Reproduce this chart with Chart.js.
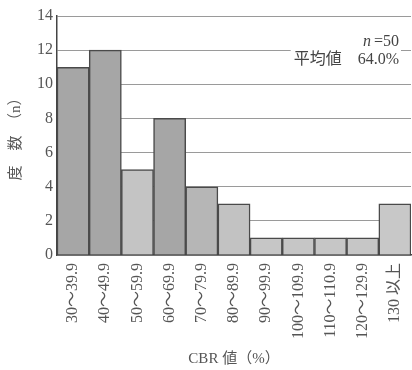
<!DOCTYPE html>
<html>
<head>
<meta charset="utf-8">
<script src="https://cdn.jsdelivr.net/npm/chart.js@4.4.1/dist/chart.umd.min.js"></script>
<style>
  body { margin: 0; background: #fff; }
</style>
</head>
<body>
<canvas id="cbrHistograma" width="412" height="370"></canvas>
<script>
// datos
const categorias = [
  "30〜39.9", "40〜49.9", "50〜59.9", "60〜69.9", "70〜79.9", "80〜89.9",
  "90〜99.9", "100〜109.9", "110〜110.9", "120〜129.9", "130 以上",
];
const frecuencias = [11, 12, 5, 8, 4, 3, 1, 1, 1, 1, 3];
const coloresBarras = [
  "#a6a6a6", "#a6a6a6", "#c4c4c4", "#a6a6a6", "#b6b6b6", "#c2c2c2",
  "#c6c6c6", "#c6c6c6", "#c6c6c6", "#c6c6c6", "#c8c8c8",
];
const ticksY = [0, 2, 4, 6, 8, 10, 12, 14];
const textoN = "=50";
const textoPromedio = "平均値　64.0%";
const lineaPromedio = 12;

const fuente = "'Liberation Serif', 'Noto Sans CJK JP', serif";

const ctxCbr = document.getElementById("cbrHistograma").getContext("2d");

/*------------------------------------------
Texto n=50 y valor promedio sobre la linea de 12
-------------------------------------------*/
const notaPromedio = {
  id: "notaPromedio",
  afterDraw(chart) {
    const { ctx, chartArea, scales } = chart;
    const yLinea = scales.y.getPixelForValue(lineaPromedio);
    const derecha = chartArea.right - 12;
    ctx.save();
    ctx.textBaseline = "middle";

    // valor promedio con fondo blanco que corta la linea
    ctx.font = "16px " + fuente;
    const ancho = ctx.measureText(textoPromedio).width;
    ctx.fillStyle = "#fff";
    ctx.fillRect(derecha - ancho - 3, yLinea - 3, ancho + 5, 6);
    ctx.fillStyle = "#444";
    ctx.textAlign = "right";
    ctx.fillText(textoPromedio, derecha, yLinea + 10);

    // n = 50
    ctx.font = "16px " + fuente;
    ctx.fillText(textoN, derecha, yLinea - 8);
    const anchoN = ctx.measureText(textoN).width;
    ctx.font = "italic 16px " + fuente;
    ctx.fillText("n", derecha - anchoN - 3, yLinea - 8);
    ctx.restore();
  },
};

const chartCbr = new Chart(ctxCbr, {
  type: "bar",
  data: {
    labels: categorias,
    datasets: [
      {
        label: "度数",
        data: frecuencias,
        backgroundColor: coloresBarras,
        borderColor: "#4a4a4a",
        borderWidth: 1.5,
        barPercentage: 1,
        categoryPercentage: 1,
      },
    ],
  },
  options: {
    responsive: false,
    animation: false,
    layout: {
      padding: { top: 16, right: 1, left: 0, bottom: 0 },
    },
    plugins: {
      legend: { display: false },
      tooltip: { enabled: false },
    },
    scales: {
      x: {
        grid: { display: false, drawTicks: false },
        border: { color: "#444", width: 1.5 },
        ticks: {
          color: "#555",
          font: { family: fuente, size: 16 },
          minRotation: 90,
          maxRotation: 90,
          autoSkip: false,
          padding: 8,
        },
        title: {
          display: true,
          text: "CBR 値（%）",
          color: "#555",
          font: { family: fuente, size: 15 },
          padding: { top: 0, bottom: 2 },
        },
        afterFit(scale) {
          scale.height = 115;
          scale.paddingLeft = 0;
          scale.paddingRight = 0;
        },
      },
      y: {
        min: 0,
        max: 14,
        afterBuildTicks(scale) {
          scale.ticks = ticksY.map((v) => ({ value: v }));
        },
        grid: { color: "#9a9a9a", lineWidth: 1, drawTicks: false },
        border: { color: "#444", width: 1.5 },
        ticks: {
          color: "#555",
          font: { family: fuente, size: 16 },
          padding: 4,
        },
        title: {
          display: true,
          text: "度　数　（n）",
          color: "#555",
          font: { family: fuente, size: 15 },
          padding: { top: 7, bottom: 0 },
        },
        afterFit(scale) {
          scale.width = 57;
          scale.paddingTop = 0;
          scale.paddingBottom = 0;
        },
      },
    },
  },
  plugins: [notaPromedio],
});
</script>
</body>
</html>
